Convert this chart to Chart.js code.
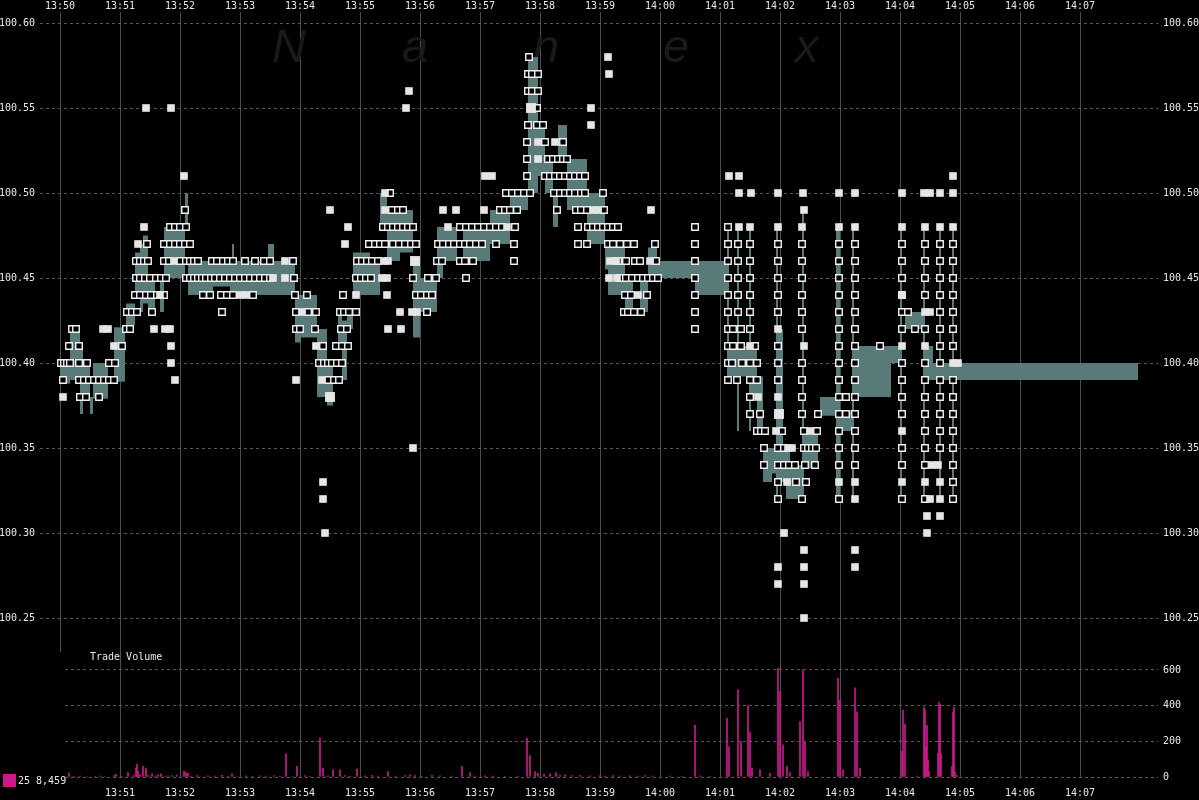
<!DOCTYPE html>
<html><head><meta charset="utf-8">
<script src="https://cdn.jsdelivr.net/npm/chart.js"></script>
<style>html,body{margin:0;padding:0;background:#000;overflow:hidden}#wrap{width:1199px;height:800px;position:relative}canvas{position:absolute;left:0;top:0}</style>
</head><body><div id="wrap"><canvas id="price" width="1199" height="800"></canvas><canvas id="vol" width="1199" height="800"></canvas></div>
<script>
// time axis: seconds after 13:50:00
const topTickLabels = ['13:50','13:51','13:52','13:53','13:54','13:55','13:56','13:57','13:58','13:59','14:00','14:01','14:02','14:03','14:04','14:05','14:06','14:07'];
const bottomTickLabels = ['13:51','13:52','13:53','13:54','13:55','13:56','13:57','13:58','13:59','14:00','14:01','14:02','14:03','14:04','14:05','14:06','14:07'];
const priceTicks = [100.25,100.30,100.35,100.40,100.45,100.50,100.55,100.60];
const volumeTicks = [0,200,400,600];

// NBBO spread band: [second, low, high] (holds until next entry)
const spread = [
[0,100.388,100.400],[10,100.390,100.420],[20,100.370,100.410],[23,100.380,100.400],[30,100.370,100.380],
[33,100.379,100.400],[48,100.390,100.390],[54,100.389,100.421],[65,100.420,100.420],[66,100.422,100.435],
[75,100.440,100.465],[80,100.430,100.470],[83,100.435,100.475],[88,100.430,100.450],[95,100.440,100.440],
[100,100.430,100.450],[104,100.450,100.480],[125,100.480,100.500],[128,100.440,100.460],[153,100.445,100.460],
[170,100.440,100.460],[172,100.440,100.470],[174,100.440,100.460],[208,100.440,100.470],[214,100.440,100.460],
[235,100.412,100.440],[241,100.415,100.440],[257,100.380,100.420],[267,100.375,100.400],[273,100.400,100.400],
[278,100.410,100.430],[282,100.390,100.425],[287,100.420,100.430],[293,100.440,100.465],[310,100.440,100.460],
[320,100.480,100.500],[327,100.460,100.490],[340,100.465,100.490],[353,100.415,100.460],[360,100.430,100.450],
[377,100.450,100.480],[383,100.460,100.480],[397,100.470,100.470],[403,100.460,100.480],[430,100.470,100.490],
[450,100.490,100.500],[468,100.500,100.580],[478,100.510,100.540],[485,100.500,100.520],[493,100.480,100.500],
[498,100.520,100.540],[507,100.490,100.520],[527,100.470,100.500],[545,100.455,100.472],[548,100.440,100.470],
[565,100.430,100.450],[573,100.450,100.450],[580,100.430,100.450],[588,100.450,100.468],[597,100.450,100.460],
[635,100.440,100.460],[667,100.390,100.480],[669,100.392,100.410],[677,100.360,100.480],[679,100.392,100.410],
[689,100.360,100.480],[691,100.380,100.410],[697,100.362,100.392],[703,100.330,100.350],[712,100.335,100.350],
[716,100.320,100.480],[718,100.330,100.420],[723,100.330,100.350],[726,100.320,100.350],[730,100.320,100.340],
[742,100.320,100.490],[744,100.338,100.360],[758,100.360,100.360],[760,100.369,100.380],[776,100.320,100.480],
[780,100.360,100.372],[792,100.320,100.480],[794,100.380,100.410],[831,100.400,100.410],[840,100.320,100.480],
[842,100.400,100.400],[845,100.420,100.430],[863,100.320,100.480],[865,100.390,100.410],[873,100.390,100.400],
[879,100.320,100.480],[881,100.390,100.400],[892,100.320,100.480],[894,100.390,100.400],[1078,100.390,100.390]
];

// trades (hollow squares): [second, price]
const trades = [
[1,100.40],[4,100.40],[7,100.40],[10,100.40],[3,100.39],[9,100.41],[12,100.42],[16,100.42],[19,100.41],[19,100.40],
[19,100.39],[20,100.38],[24,100.39],[26,100.38],[27,100.40],[29,100.39],[34,100.39],[39,100.39],[39,100.38],[44,100.39],
[49,100.39],[49,100.40],[54,100.39],[55,100.40],[62,100.41],
[66,100.42],[70,100.42],[67,100.43],[72,100.43],[77,100.43],[92,100.43],
[75,100.44],[80,100.44],[86,100.44],[91,100.44],[97,100.44],[104,100.44],
[76,100.45],[80,100.45],[85,100.45],[90,100.45],[96,100.45],[101,100.45],[106,100.45],
[76,100.46],[80,100.46],[84,100.46],[88,100.46],[104,100.46],[109,100.46],[120,100.46],
[87,100.47],[104,100.47],[110,100.47],[115,100.47],[120,100.47],[125,100.47],[130,100.47],
[110,100.48],[115,100.48],[120,100.48],[126,100.48],[125,100.49],
[126,100.46],[130,100.46],[134,100.46],[138,100.46],[152,100.46],[157,100.46],[163,100.46],[168,100.46],[173,100.46],
[185,100.46],[195,100.46],[204,100.46],[210,100.46],
[126,100.45],[130,100.45],[134,100.45],[138,100.45],[142,100.45],[146,100.45],[151,100.45],[155,100.45],[160,100.45],
[165,100.45],[170,100.45],[175,100.45],[180,100.45],[185,100.45],[190,100.45],[195,100.45],[200,100.45],[205,100.45],[210,100.45],
[143,100.44],[150,100.44],[161,100.44],[167,100.44],[173,100.44],[193,100.44],[162,100.43],
[233,100.46],[234,100.45],[235,100.44],[247,100.44],[236,100.43],[248,100.43],[256,100.43],[236,100.42],[240,100.42],[255,100.42],
[263,100.41],[276,100.41],[282,100.41],[288,100.41],
[259,100.40],[264,100.40],[268,100.40],[272,100.40],[277,100.40],[282,100.40],
[268,100.39],[274,100.39],[279,100.39],
[281,100.42],[287,100.42],[280,100.43],[284,100.43],[289,100.43],[296,100.43],[283,100.44],
[296,100.45],[301,100.45],[306,100.45],[311,100.45],
[297,100.46],[302,100.46],[307,100.46],[312,100.46],[318,100.46],
[309,100.47],[315,100.47],[320,100.47],[325,100.47],[333,100.47],[339,100.47],[345,100.47],[351,100.47],[356,100.47],
[323,100.48],[328,100.48],[333,100.48],[338,100.48],[343,100.48],[348,100.48],[353,100.48],
[332,100.49],[338,100.49],[343,100.49],[330,100.50],
[353,100.45],[368,100.45],[376,100.45],
[356,100.44],[361,100.44],[367,100.44],[372,100.44],[367,100.43],
[377,100.46],[382,100.46],[400,100.46],[405,100.46],[413,100.46],[406,100.45],
[378,100.47],[383,100.47],[389,100.47],[394,100.47],[400,100.47],[405,100.47],[410,100.47],[416,100.47],[422,100.47],[436,100.47],[454,100.47],
[400,100.48],[406,100.48],[412,100.48],[418,100.48],[424,100.48],[430,100.48],[436,100.48],[442,100.48],[455,100.48],
[440,100.49],[445,100.49],[450,100.49],[457,100.49],
[446,100.50],[452,100.50],[458,100.50],[464,100.50],[470,100.50],[454,100.46],
[469,100.58],[468,100.57],[472,100.57],[478,100.57],[468,100.56],[472,100.56],[478,100.56],[477,100.55],
[468,100.54],[477,100.54],[483,100.54],[467,100.53],[485,100.53],[503,100.53],
[467,100.52],[488,100.52],[493,100.52],[498,100.52],[503,100.52],[507,100.52],
[467,100.51],[485,100.51],[490,100.51],[495,100.51],[500,100.51],[505,100.51],[510,100.51],[515,100.51],[520,100.51],[525,100.51],
[494,100.50],[500,100.50],[505,100.50],[510,100.50],[515,100.50],[521,100.50],[525,100.50],[543,100.50],
[497,100.49],[516,100.49],[521,100.49],[527,100.49],[544,100.49],
[518,100.48],[528,100.48],[533,100.48],[538,100.48],[543,100.48],[548,100.48],[553,100.48],[558,100.48],
[518,100.47],[527,100.47],
[548,100.47],[553,100.47],[560,100.47],[567,100.47],[574,100.47],[595,100.47],
[558,100.46],[566,100.46],[575,100.46],[580,100.46],[596,100.46],
[560,100.45],[566,100.45],[572,100.45],[578,100.45],[583,100.45],[588,100.45],[593,100.45],[598,100.45],
[565,100.44],[571,100.44],[587,100.44],
[564,100.43],[568,100.43],[574,100.43],[581,100.43],
[635,100.48],[635,100.47],[635,100.46],[635,100.45],[635,100.44],[635,100.43],[635,100.42],
[668,100.48],[668,100.47],[668,100.46],[668,100.45],[668,100.44],[668,100.43],[668,100.42],[668,100.41],[668,100.40],[668,100.39],
[673,100.42],[673,100.41],[672,100.40],[677,100.39],
[678,100.47],[678,100.46],[678,100.45],[678,100.44],[678,100.43],[681,100.42],[681,100.41],[682,100.40],
[690,100.47],[690,100.46],[690,100.45],[690,100.44],[690,100.43],[690,100.42],[690,100.40],[690,100.39],[690,100.38],[690,100.37],
[695,100.41],[697,100.40],[697,100.39],[700,100.37],[697,100.36],[701,100.36],[705,100.36],[704,100.35],[704,100.34],
[718,100.47],[718,100.46],[718,100.45],[718,100.44],[718,100.43],[718,100.41],[718,100.40],[718,100.39],[718,100.35],[718,100.34],[718,100.33],[718,100.32],
[722,100.36],[724,100.35],[724,100.34],[729,100.34],[735,100.34],[736,100.33],[746,100.33],
[742,100.47],[742,100.46],[742,100.45],[742,100.44],[742,100.43],[742,100.42],[742,100.40],[742,100.39],[742,100.38],[742,100.37],[742,100.32],
[744,100.36],[744,100.35],[748,100.35],[752,100.35],[756,100.35],[745,100.34],[755,100.34],[757,100.36],[758,100.37],
[779,100.47],[779,100.46],[779,100.45],[779,100.44],[779,100.43],[779,100.42],[779,100.41],[779,100.40],[779,100.39],[779,100.38],
[779,100.37],[779,100.36],[779,100.35],[779,100.34],[779,100.32],[786,100.38],[786,100.37],
[795,100.47],[795,100.46],[795,100.45],[795,100.44],[795,100.43],[795,100.42],[795,100.41],[795,100.40],[795,100.39],[795,100.38],
[795,100.37],[795,100.36],[795,100.35],[795,100.34],[820,100.41],
[842,100.47],[842,100.46],[842,100.45],[842,100.44],[842,100.43],[848,100.43],[842,100.42],[842,100.40],[842,100.39],[842,100.38],
[842,100.37],[842,100.35],[842,100.34],[842,100.32],
[855,100.42],[865,100.47],[865,100.46],[865,100.45],[865,100.44],[865,100.42],[865,100.40],[865,100.39],[865,100.38],[865,100.37],
[865,100.36],[865,100.35],[865,100.34],[865,100.32],
[880,100.47],[880,100.46],[880,100.45],[880,100.44],[880,100.43],[880,100.42],[880,100.41],[880,100.40],[880,100.39],[880,100.38],
[880,100.37],[880,100.36],[880,100.35],
[893,100.47],[893,100.46],[893,100.45],[893,100.44],[893,100.43],[893,100.42],[893,100.41],[893,100.39],[893,100.38],[893,100.37],
[893,100.36],[893,100.35],[893,100.34],[893,100.33],[893,100.32]
];

// exchange quotes (filled squares): [second, price]
const quotes = [
[3,100.38],[43,100.42],[48,100.42],[54,100.41],[78,100.47],[84,100.48],[86,100.55],[94,100.42],[100,100.44],[105,100.42],
[110,100.42],[111,100.41],[111,100.40],[111,100.55],[114,100.46],[115,100.39],[124,100.51],
[180,100.44],[186,100.44],[213,100.45],[225,100.45],[225,100.46],
[236,100.39],[242,100.43],[256,100.41],[262,100.39],[263,100.33],[263,100.32],[265,100.30],[270,100.49],[285,100.47],[288,100.48],[296,100.44],
[322,100.45],[324,100.46],[325,100.50],[325,100.49],[327,100.45],[327,100.44],[328,100.46],[328,100.42],[340,100.43],[341,100.42],
[346,100.55],[349,100.56],[352,100.43],[353,100.35],[357,100.43],
[383,100.49],[388,100.48],[396,100.49],[424,100.49],[425,100.51],[432,100.51],[447,100.48],
[478,100.53],[478,100.52],[495,100.53],[531,100.55],[531,100.54],[533,100.49],[538,100.49],[548,100.58],[549,100.57],
[549,100.45],[550,100.46],[556,100.46],[557,100.45],
[578,100.44],[590,100.46],[591,100.49],
[669,100.51],[679,100.51],[679,100.50],[691,100.50],[718,100.50],[743,100.50],[744,100.49],[679,100.48],[690,100.48],[718,100.48],
[742,100.48],[718,100.42],[690,100.41],[744,100.41],[698,100.38],[718,100.38],[716,100.36],[750,100.36],[728,100.35],[732,100.35],
[727,100.33],[724,100.30],[744,100.29],[718,100.28],[744,100.28],[718,100.27],[744,100.27],[744,100.25],
[779,100.50],[779,100.48],[779,100.33],[795,100.50],[795,100.48],[795,100.33],[795,100.32],[795,100.29],[795,100.28],
[842,100.50],[842,100.48],[842,100.44],[842,100.41],[842,100.36],[842,100.33],
[864,100.50],[870,100.50],[865,100.48],[865,100.43],[870,100.43],[865,100.41],[872,100.34],[878,100.34],[865,100.33],[870,100.32],
[867,100.31],[867,100.30],[880,100.50],[880,100.48],[880,100.33],[880,100.32],[880,100.31],
[893,100.51],[893,100.50],[893,100.48],[893,100.40],[898,100.40]
];
// larger quote marks
const bigQuotes = [[270,100.38],[355,100.46],[471,100.55],[719,100.37]];

// trade volume per second: [second, shares]
const volume = [
[3,10],[5,3],[9,22],[14,4],[20,5],[27,3],[35,4],[40,5],[45,3],[54,8],[56,15],[62,4],[68,25],[74,8],[76,50],[77,72],[78,30],
[80,12],[83,60],[86,50],[88,8],[92,18],[95,5],[98,12],[101,18],[105,4],[108,6],[112,8],[117,10],[124,33],[126,25],[128,20],
[131,4],[137,8],[140,3],[148,6],[155,5],[162,10],[168,4],[172,18],[178,3],[186,6],[192,4],[200,6],[206,5],[214,8],[220,4],
[226,130],[232,3],[237,60],[245,8],[250,5],[260,218],[263,50],[268,6],[273,40],[280,40],[285,8],[290,5],[297,45],[305,6],
[312,10],[318,5],[328,30],[335,4],[345,8],[350,12],[355,8],[362,4],[372,10],[380,6],[392,5],[402,60],[410,25],[415,5],
[425,6],[433,5],[445,4],[458,5],[467,218],[470,120],[475,30],[478,20],[484,15],[490,18],[496,25],[500,10],[505,12],[512,8],
[520,10],[530,6],[540,8],[545,5],[553,8],[560,5],[570,6],[578,5],[585,8],[592,5],[610,5],[622,4],[635,290],[640,6],[650,4],
[667,330],[669,170],[678,490],[681,200],[688,400],[690,250],[692,50],[700,40],[710,20],[718,610],[720,480],[723,180],[727,60],
[730,25],[740,310],[743,600],[745,200],[748,30],[778,555],[780,430],[783,40],[795,500],[797,365],[800,50],
[842,144],[843,374],[845,295],[857,5],[864,392],[865,377],[866,168],[867,290],[868,93],[869,32],
[878,131],[879,419],[880,407],[881,131],[892,60],[893,364],[894,392],[895,28],[897,8]
];

const TEAL = '#587a78';
const MAGENTA = '#cc1a8c';
const TXT = '#e8e8e8';
const VGRID = '#4e4e4e';
const HGRID = '#5a5a5a';
Chart.defaults.font.family = "'DejaVu Sans Mono', monospace";
Chart.defaults.font.size = 10;
Chart.defaults.color = TXT;

const priceBg = {
  id: 'priceBg',
  beforeDraw(chart) {
    const ctx = chart.ctx;
    ctx.save(); ctx.fillStyle = '#000'; ctx.fillRect(0, 0, chart.width, chart.height); ctx.restore();
  },
  beforeDatasetsDraw(chart) {
    const ctx = chart.ctx;
    ctx.save();
    ctx.fillStyle = '#1a1a1a';
    ctx.font = 'italic 47px "Liberation Sans", "DejaVu Sans", sans-serif';
    ctx.textBaseline = 'alphabetic';
    [['N',272],['a',402],['n',533],['e',663],['x',795]].forEach(([ch, x]) => ctx.fillText(ch, x, 62));
    ctx.restore();
  }
};
const volText = {
  id: 'volText',
  afterDraw(chart) {
    const ctx = chart.ctx;
    ctx.save();
    ctx.font = "10px 'DejaVu Sans Mono', monospace";
    ctx.textBaseline = 'middle';
    ctx.fillStyle = TXT;
    ctx.fillText('Trade Volume', 90, 657);
    ctx.fillStyle = MAGENTA;
    ctx.fillRect(3, 774, 13, 13);
    ctx.fillStyle = TXT;
    ctx.fillText('25 8,459', 18, 781);
    ctx.restore();
  }
};

const priceMin = 100.23, priceMax = 100.606471;

new Chart(document.getElementById('price'), {
  type: 'scatter',
  data: {
    datasets: [
      { type: 'line', label: 'ask', data: spread.map(s => ({x: s[0], y: s[2]})), stepped: true, fill: '+1',
        backgroundColor: TEAL, borderColor: 'rgba(0,0,0,0)', borderWidth: 0, pointRadius: 0, order: 10 },
      { type: 'line', label: 'bid', data: spread.map(s => ({x: s[0], y: s[1]})), stepped: true, fill: false,
        borderColor: 'rgba(0,0,0,0)', borderWidth: 0, pointRadius: 0, order: 11 },
      { label: 'trades', data: trades.map(p => ({x: p[0], y: p[1]})), pointStyle: 'rect',
        pointRadius: 4.6, pointBackgroundColor: '#000', pointBorderColor: '#f0f0f0', pointBorderWidth: 1.4, order: 3 },
      { label: 'quotes', data: quotes.map(p => ({x: p[0], y: p[1]})), pointStyle: 'rect',
        pointRadius: 5.4, pointBackgroundColor: '#e6e6e6', pointBorderWidth: 0, order: 2 },
      { label: 'bigQuotes', data: bigQuotes.map(p => ({x: p[0], y: p[1]})), pointStyle: 'rect',
        pointRadius: 7, pointBackgroundColor: '#e6e6e6', pointBorderWidth: 0, order: 1 }
    ]
  },
  options: {
    responsive: false, animation: false, devicePixelRatio: 1, events: [],
    layout: { padding: { top: 0, left: 0, right: 0, bottom: 148 } },
    plugins: { legend: { display: false }, tooltip: { enabled: false } },
    scales: {
      x: {
        type: 'linear', position: 'top', min: -20, max: 1098, offset: false,
        afterBuildTicks: s => { s.ticks = topTickLabels.map((l, i) => ({ value: i * 60 })); },
        afterFit: s => { s.height = 12; },
        ticks: { callback: (v, i) => topTickLabels[i], autoSkip: false, maxRotation: 0, padding: 0, color: TXT },
        grid: { color: VGRID, lineWidth: 1, drawTicks: false, offset: false },
        border: { display: false }
      },
      y: {
        type: 'linear', position: 'left', min: priceMin, max: priceMax,
        afterBuildTicks: s => { s.ticks = priceTicks.map(v => ({ value: v })); },
        afterFit: s => { s.width = 40; },
        ticks: { callback: v => v.toFixed(2), padding: 5, color: TXT },
        grid: { color: HGRID, lineWidth: 1, drawTicks: false },
        border: { display: false, dash: [3, 3] }
      },
      yR: {
        type: 'linear', position: 'right', min: priceMin, max: priceMax,
        afterBuildTicks: s => { s.ticks = priceTicks.map(v => ({ value: v })); },
        afterFit: s => { s.width = 41; },
        ticks: { callback: v => v.toFixed(2), padding: 5, color: TXT },
        grid: { display: false, drawTicks: false },
        border: { display: false }
      }
    }
  },
  plugins: [priceBg]
});

new Chart(document.getElementById('vol'), {
  type: 'bar',
  data: {
    datasets: [
      { label: 'volume', data: volume.map(v => ({x: v[0], y: v[1]})), backgroundColor: MAGENTA, barThickness: 1, grouped: false }
    ]
  },
  options: {
    responsive: false, animation: false, devicePixelRatio: 1, events: [],
    layout: { padding: { top: 652, left: 65, right: 0, bottom: 0 } },
    plugins: { legend: { display: false }, tooltip: { enabled: false } },
    scales: {
      x: {
        type: 'linear', position: 'bottom', min: 5, max: 1098, offset: false,
        afterBuildTicks: s => { s.ticks = bottomTickLabels.map((l, i) => ({ value: (i + 1) * 60 })); },
        afterFit: s => { s.height = 23; },
        ticks: { callback: (v, i) => bottomTickLabels[i], autoSkip: false, maxRotation: 0, padding: 10, color: TXT },
        grid: { color: VGRID, lineWidth: 1, drawTicks: false, offset: false },
        border: { display: false }
      },
      y: {
        type: 'linear', position: 'right', min: 0, max: 700.9,
        afterBuildTicks: s => { s.ticks = volumeTicks.map(v => ({ value: v })); },
        afterFit: s => { s.width = 41; },
        ticks: { callback: v => String(v), padding: 5, color: TXT },
        grid: { color: HGRID, lineWidth: 1, drawTicks: false },
        border: { display: false, dash: [3, 3] }
      }
    }
  },
  plugins: [volText]
});
</script>
</body></html>
